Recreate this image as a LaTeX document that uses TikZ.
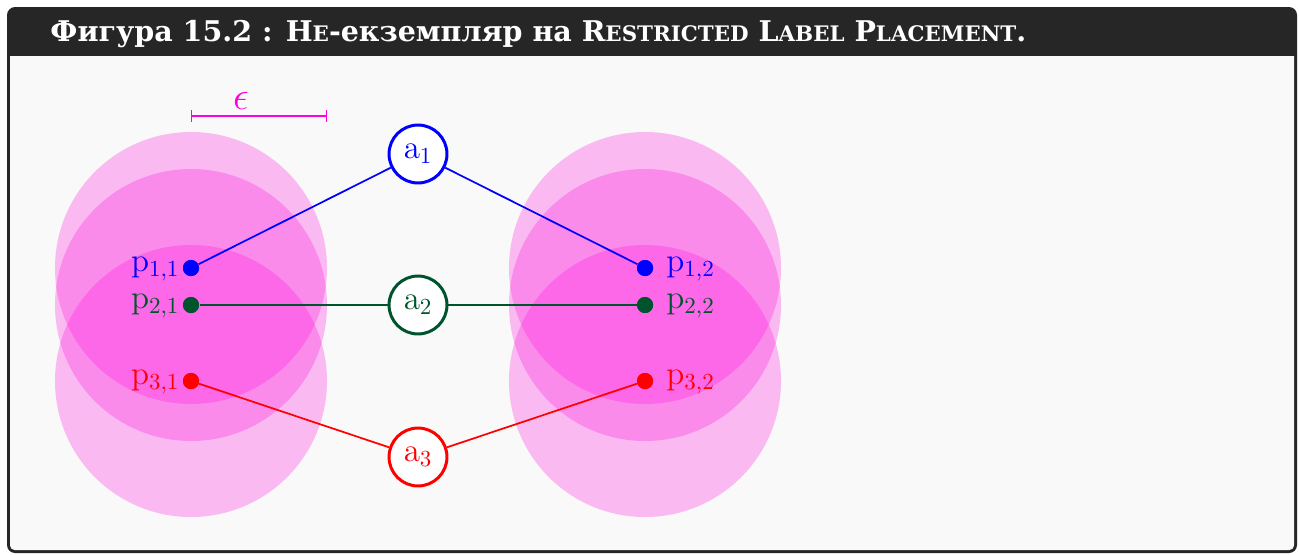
\documentclass[tikz,border=0pt]{standalone}
\usepackage[no-math]{fontspec}
\usetikzlibrary{arrows.meta}
\newfontfamily\titlefont{DejaVu Serif}
\definecolor{framec}{RGB}{38,38,38}
\definecolor{bgc}{RGB}{249,249,249}
\definecolor{greenc}{RGB}{0,84,45}
\definecolor{magc}{RGB}{255,0,220}
\newcommand\smc[1]{{\fontsize{9.3}{11}\selectfont #1}}
\tikzset{
  dot/.style={circle, inner sep=0pt, minimum size=7pt},
  anode/.style={circle, draw, line width=1.3pt, fill=white, inner sep=0pt, minimum size=25.2pt, font=\fontsize{14.5}{16}\selectfont},
  lab/.style={inner sep=0pt, font=\fontsize{13.8}{16}\selectfont},
  conn/.style={line width=0.75pt},
  zone/.style={fill=magc, opacity=0.25},
}
\begin{document}
\begin{tikzpicture}[x=0.435pt,y=-0.435pt]
\useasboundingbox (0,0) rectangle (1299,554);
\fill[white] (0,0) rectangle (1299,554);
\fill[framec, rounded corners=3.5pt] (7,7) rectangle (1297,553);
\fill[bgc] (10,56) -- (1294,56) [rounded corners=2pt] -- (1294,550) -- (10,550) [sharp corners] -- cycle;
\node[anchor=base west, text=white, inner sep=0pt] (title) at (50,41)
  {\titlefont\bfseries\fontsize{12.4}{15}\selectfont Фигура 15.2 : Н\smc{Е}-екземпляр на R\smc{ESTRICTED} L\smc{ABEL} P\smc{LACEMENT}.};
% zones
\foreach \yy in {268,305,381} {
  \fill[zone] (191,\yy) circle[radius=136];
  \fill[zone] (645,\yy) circle[radius=136];
}
% epsilon bar
\coordinate (e1) at (191,116);
\coordinate (e2) at (327,116);
\draw[magc, line width=0.6pt, {Bar[width=5pt]}-{Bar[width=5pt]}] (e1) -- (e2);
\node[inner sep=0pt, text=magc, font=\fontsize{18}{20}\selectfont] (eps) at (241,101) {$\epsilon$};
% points
\node[dot, fill=blue] (p11) at (191,268) {};
\node[dot, fill=greenc] (p21) at (191,305) {};
\node[dot, fill=red] (p31) at (191,381) {};
\node[dot, fill=blue] (p12) at (645,268) {};
\node[dot, fill=greenc] (p22) at (645,305) {};
\node[dot, fill=red] (p32) at (645,381) {};
% a nodes
\node[anode, draw=blue, text=blue] (a1) at (418,154) {$\mathrm{a}_1$};
\node[anode, draw=greenc, text=greenc] (a2) at (418,305) {$\mathrm{a}_2$};
\node[anode, draw=red, text=red] (a3) at (418,457) {$\mathrm{a}_3$};
% connectors
\draw[conn, blue] (a1) -- (p11);
\draw[conn, blue] (a1) -- (p12);
\draw[conn, greenc] (a2) -- (p21);
\draw[conn, greenc] (a2) -- (p22);
\draw[conn, red] (a3) -- (p31);
\draw[conn, red] (a3) -- (p32);
% redraw dots on top
\node[dot, fill=blue] at (p11) {};
\node[dot, fill=greenc] at (p21) {};
\node[dot, fill=red] at (p31) {};
\node[dot, fill=blue] at (p12) {};
\node[dot, fill=greenc] at (p22) {};
\node[dot, fill=red] at (p32) {};
% labels
\node[lab, anchor=east, text=blue] (l11) at (180,269) {$\mathrm{p}_{1,1}$};
\node[lab, anchor=east, text=greenc] (l21) at (180,306) {$\mathrm{p}_{2,1}$};
\node[lab, anchor=east, text=red] (l31) at (180,382) {$\mathrm{p}_{3,1}$};
\node[lab, anchor=west, text=blue] (l12) at (666,269) {$\mathrm{p}_{1,2}$};
\node[lab, anchor=west, text=greenc] (l22) at (666,306) {$\mathrm{p}_{2,2}$};
\node[lab, anchor=west, text=red] (l32) at (666,382) {$\mathrm{p}_{3,2}$};
\end{tikzpicture}
\end{document}
